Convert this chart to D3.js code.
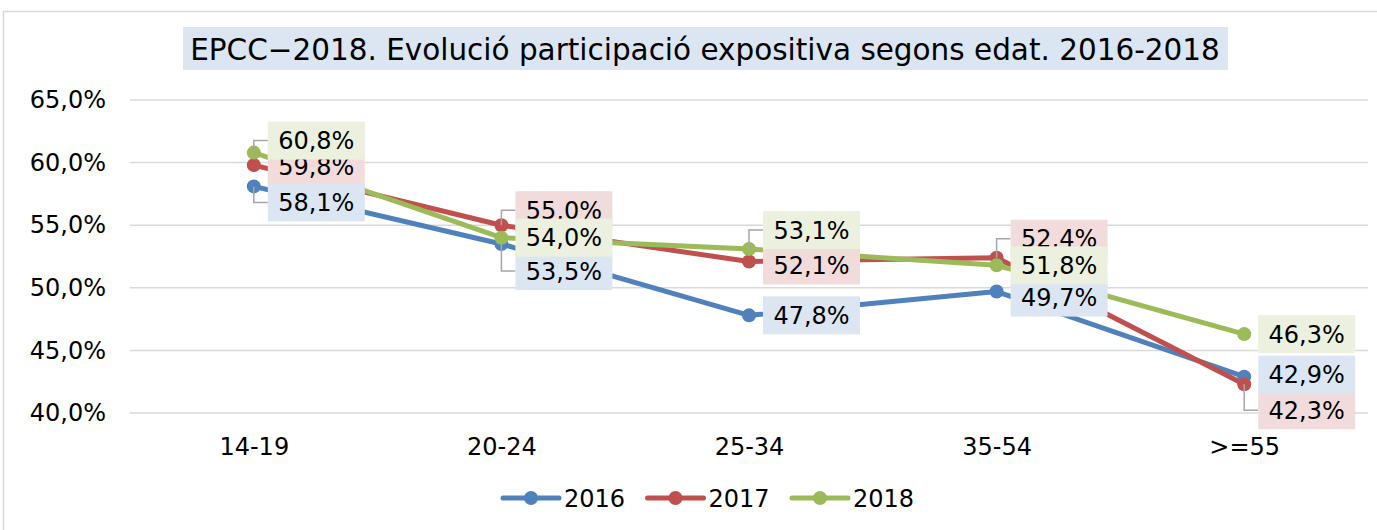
<!DOCTYPE html>
<html>
<head>
<meta charset="utf-8">
<script src="https://cdn.jsdelivr.net/npm/d3@7"></script>
<style>
  body { margin: 0; background: #fff; }
  svg { font-family: "DejaVu Sans", Verdana, sans-serif; }
</style>
</head>
<body>
<div id="chart"></div>
<script>
// data
const categories = ['14-19', '20-24', '25-34', '35-54', '>=55'];
const years = ['2016', '2017', '2018'];
const values2016 = [58.1, 53.5, 47.8, 49.7, 42.9];
const values2017 = [59.8, 55.0, 52.1, 52.4, 42.3];
const values2018 = [60.8, 54.0, 53.1, 51.8, 46.3];
const yTicks = [40, 45, 50, 55, 60, 65];
const title = 'EPCC\u22122018. Evolució participació expositiva segons edat. 2016-2018';

// styling / layout
const width = 1377;
const height = 530;
const FONT = 24;
const lineColors = ['#4f81bd', '#c0504d', '#9bbb59'];
const boxColors = ['#dce6f2', '#f2dcdb', '#ebf1de'];
// vertical shift of each data label box centre from its point (px)
const labelShift = [
    [16, 27, 0, 6, -2],
    [1, -15, 4, -19, 26],
    [-12, 0, -19, 0, 0]
];
const BOX_W = 97;
const BOX_H = 38;

const series = [values2016, values2017, values2018].map((v, i) => ({
    name: years[i], values: v, color: lineColors[i], box: boxColors[i], shift: labelShift[i], idx: i
}));

const svg = d3.select('#chart')
    .append('svg')
    .attr('width', width)
    .attr('height', height);

// chart frame
svg.append('rect')
    .attr('x', 3.5)
    .attr('y', 11.5)
    .attr('width', width + 20)
    .attr('height', height + 20)
    .attr('fill', '#fff')
    .attr('stroke', '#d9d9d9')
    .attr('stroke-width', 1.5);

const x = d3.scalePoint()
    .domain(categories)
    .range([130, 1368])
    .padding(0.5);

const y = d3.scaleLinear()
    .domain([40, 65])
    .range([413, 100]);

const fmt = (v) => d3.format('.1f')(v).replace('.', ',') + '%';

// gridlines
svg.append('g')
    .selectAll('line')
    .data(yTicks)
    .enter()
    .append('line')
    .attr('x1', 130)
    .attr('x2', 1368)
    .attr('y1', (d) => y(d))
    .attr('y2', (d) => y(d))
    .attr('stroke', '#d9d9d9')
    .attr('stroke-width', 1.5);

// y axis
const yAxis = svg.append('g')
    .attr('transform', 'translate(130,0)')
    .call(d3.axisLeft(y).tickValues(yTicks).tickSize(0).tickPadding(24).tickFormat(fmt));
yAxis.select('.domain').remove();
yAxis.selectAll('text')
    .attr('font-size', FONT)
    .attr('font-family', '"DejaVu Sans", Verdana, sans-serif')
    .attr('fill', '#000');

// x axis
const xAxis = svg.append('g')
    .attr('transform', 'translate(0,413)')
    .call(d3.axisBottom(x).tickSize(0).tickPadding(25));
xAxis.select('.domain').remove();
xAxis.selectAll('text')
    .attr('font-size', FONT)
    .attr('font-family', '"DejaVu Sans", Verdana, sans-serif')
    .attr('fill', '#000');

// lines
const line = d3.line()
    .x((d, i) => x(categories[i]))
    .y((d) => y(d));

svg.append('g')
    .selectAll('path')
    .data(series)
    .enter()
    .append('path')
    .attr('d', (s) => line(s.values))
    .attr('fill', 'none')
    .attr('stroke', (s) => s.color)
    .attr('stroke-width', 5)
    .attr('stroke-linejoin', 'round')
    .attr('stroke-linecap', 'round');

// markers
series.forEach((s) => {
    svg.append('g')
        .selectAll('circle')
        .data(s.values)
        .enter()
        .append('circle')
        .attr('cx', (d, i) => x(categories[i]))
        .attr('cy', (d) => y(d))
        .attr('r', 7)
        .attr('fill', s.color);
});

// leader lines
series.forEach((s) => {
    s.values.forEach((v, i) => {
        if (Math.abs(s.shift[i]) < 10) return;
        const px = x(categories[i]);
        const py = y(v);
        svg.append('path')
            .attr('d', `M${px},${py} V${py + s.shift[i]} H${px + 14}`)
            .attr('fill', 'none')
            .attr('stroke', '#a6a6a6')
            .attr('stroke-width', 1.5);
    });
});

// data labels (2017 first, then 2016, then 2018 on top)
[series[1], series[0], series[2]].forEach((s) => {
    const g = svg.append('g')
        .selectAll('g')
        .data(s.values)
        .enter()
        .append('g')
        .attr('transform', (d, i) => `translate(${x(categories[i]) + 14}, ${y(d) + s.shift[i] - BOX_H / 2})`);
    g.append('rect')
        .attr('width', BOX_W)
        .attr('height', BOX_H)
        .attr('fill', s.box);
    g.append('text')
        .text((d) => fmt(d))
        .attr('x', BOX_W / 2)
        .attr('y', BOX_H / 2)
        .attr('dy', '0.36em')
        .attr('text-anchor', 'middle')
        .attr('font-size', FONT)
        .attr('fill', '#000');
});

// title
const titleG = svg.append('g');
const titleRect = titleG.append('rect').attr('fill', '#dce6f2');
const titleText = titleG.append('text')
    .text(title)
    .attr('x', 705)
    .attr('y', 49)
    .attr('dy', '0.36em')
    .attr('text-anchor', 'middle')
    .attr('font-size', 24)
    .attr('fill', '#000');
const tw = titleText.node().getComputedTextLength();
titleText.attr('font-size', 24 * 1030 / tw);
titleRect
    .attr('x', 183)
    .attr('y', 27)
    .attr('width', 1045)
    .attr('height', 43);

// legend
const legend = svg.append('g')
    .selectAll('g')
    .data(series)
    .enter()
    .append('g')
    .attr('transform', (s, i) => `translate(${503 + i * 144.5}, 498)`);
legend.append('line')
    .attr('x1', 0)
    .attr('x2', 56)
    .attr('stroke', (s) => s.color)
    .attr('stroke-width', 5)
    .attr('stroke-linecap', 'round');
legend.append('circle')
    .attr('cx', 28)
    .attr('r', 7)
    .attr('fill', (s) => s.color);
legend.append('text')
    .text((s) => s.name)
    .attr('x', 61)
    .attr('dy', '0.36em')
    .attr('font-size', FONT)
    .attr('fill', '#000');
</script>
</body>
</html>
